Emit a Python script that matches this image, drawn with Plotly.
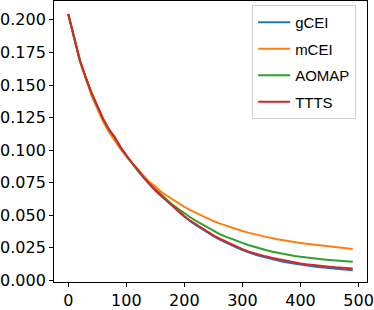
import plotly.graph_objects as go

steps = list(range(0, 500, 10))

ttts = [0.2045, 0.186, 0.169, 0.156, 0.144, 0.134, 0.124, 0.116, 0.110, 0.102,
        0.096, 0.090, 0.085, 0.079, 0.074, 0.069, 0.065, 0.061, 0.057, 0.053,
        0.049, 0.046, 0.043, 0.0400, 0.0372, 0.0346, 0.0322, 0.0300, 0.0280, 0.0260,
        0.0240, 0.0222, 0.0208, 0.0196, 0.0185, 0.0174, 0.0164, 0.0154, 0.0145, 0.0137,
        0.0130, 0.0124, 0.0118, 0.0113, 0.0109, 0.0105, 0.0101, 0.0098, 0.0095, 0.0092]

gcei = [0.2045, 0.186, 0.169, 0.156, 0.144, 0.134, 0.124, 0.116, 0.109, 0.102,
        0.096, 0.090, 0.085, 0.079, 0.074, 0.069, 0.065, 0.061, 0.057, 0.053,
        0.049, 0.0455, 0.0425, 0.0395, 0.0367, 0.0340, 0.0316, 0.0293, 0.0272, 0.0252,
        0.0234, 0.0215, 0.0201, 0.0188, 0.0176, 0.0165, 0.0154, 0.0144, 0.0135, 0.0127,
        0.0120, 0.0114, 0.0108, 0.0103, 0.0098, 0.0094, 0.0090, 0.0086, 0.0082, 0.0079]

aomap = [0.2045, 0.186, 0.169, 0.156, 0.144, 0.134, 0.124, 0.116, 0.110, 0.102,
         0.096, 0.090, 0.084, 0.079, 0.074, 0.070, 0.066, 0.062, 0.058, 0.0548,
         0.0515, 0.0485, 0.0458, 0.0432, 0.0405, 0.0380, 0.0358, 0.0338, 0.0320, 0.0303,
         0.0288, 0.0272, 0.0258, 0.0245, 0.0233, 0.0222, 0.0212, 0.0203, 0.0195, 0.0188,
         0.0181, 0.0175, 0.0170, 0.0165, 0.0161, 0.0157, 0.0153, 0.0149, 0.0146, 0.0143]

mcei = [0.2045, 0.185, 0.168, 0.155, 0.142, 0.132, 0.122, 0.114, 0.107, 0.101,
        0.095, 0.090, 0.085, 0.080, 0.0755, 0.072, 0.068, 0.065, 0.062, 0.059,
        0.0565, 0.054, 0.0518, 0.0495, 0.0475, 0.0456, 0.0438, 0.0422, 0.0408, 0.0394,
        0.0380, 0.0367, 0.0355, 0.0344, 0.0334, 0.0325, 0.0316, 0.0308, 0.0300, 0.0294,
        0.0288, 0.0282, 0.0277, 0.0272, 0.0266, 0.0261, 0.0256, 0.0251, 0.0246, 0.0241]

names = ["gCEI", "mCEI", "AOMAP", "TTTS"]
series = [gcei, mcei, aomap, ttts]
colors = ["#1f77b4", "#ff7f0e", "#2ca02c", "#d62728"]

xticks = [0, 100, 200, 300, 400, 500]
yticks = [0.0, 0.025, 0.05, 0.075, 0.1, 0.125, 0.15, 0.175, 0.2]

fig = go.Figure()
for name, vals, col in zip(names, series, colors):
    fig.add_trace(go.Scatter(x=steps, y=vals, mode="lines", name=name,
                             legendgroup=name,
                             line=dict(color=col, width=2)))

fig.update_layout(
    width=374, height=310,
    margin=dict(l=49, r=6, t=0, b=26),
    paper_bgcolor="white", plot_bgcolor="white",
    font=dict(family="DejaVu Sans", size=16, color="black"),
    showlegend=True,
    legend=dict(x=0.633, y=0.986, xanchor="left", yanchor="top",
                bgcolor="white", bordercolor="#d0d0d0", borderwidth=1,
                font=dict(family="Liberation Sans", size=15, color="black"),
                itemwidth=32, tracegroupgap=4, traceorder="grouped"),
)
fig.update_xaxes(range=[-24.5, 514.5], tickvals=xticks, ticktext=[str(v) for v in xticks],
                 showline=True, mirror=True, linecolor="black", linewidth=1,
                 ticks="outside", ticklen=4, tickcolor="black", showgrid=False, zeroline=False,
                 ticklabeloverflow="allow")
fig.update_yaxes(range=[-0.0012, 0.2145], tickvals=yticks,
                 ticktext=[f"{v:.3f}" for v in yticks],
                 showline=True, mirror=True, linecolor="black", linewidth=1,
                 ticks="outside", ticklen=4, tickcolor="black", showgrid=False, zeroline=False,
                 ticklabeloverflow="allow")

fig.write_html("out.html", config={"displayModeBar": False},
               post_script="document.body.style.margin='0';document.body.style.overflow='hidden';")
